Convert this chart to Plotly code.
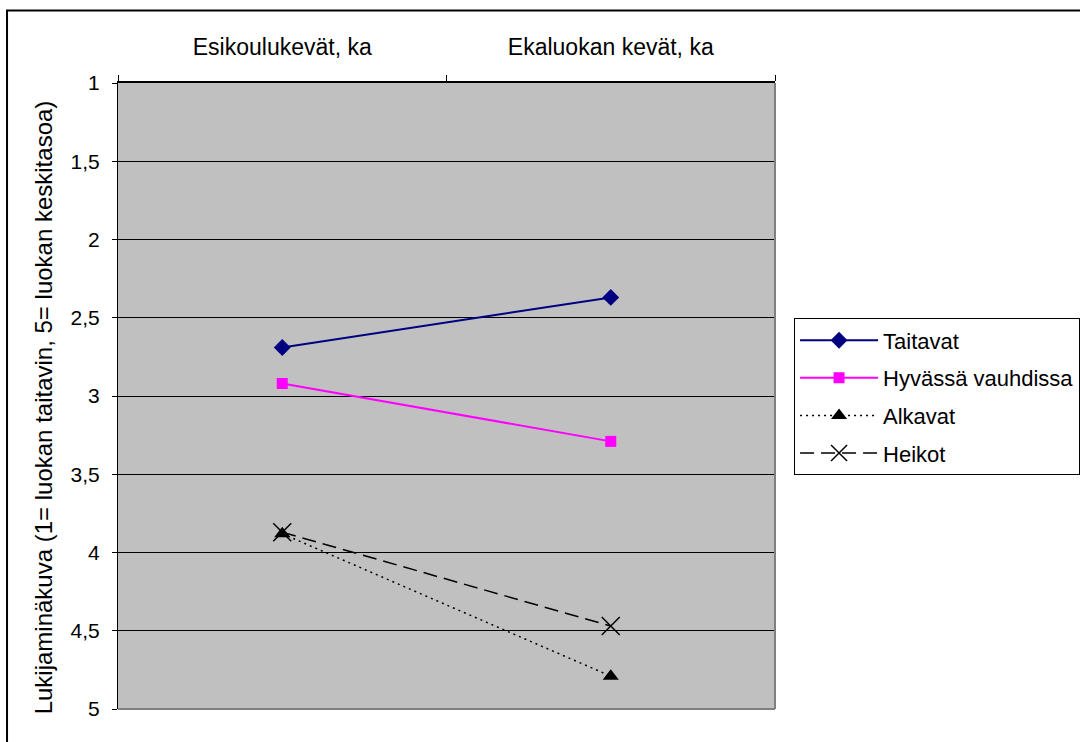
import plotly.graph_objects as go

# Survey points and group means (scale: 1 = best in class, 5 = class average)
categories = ["Esikoulukevät, ka", "Ekaluokan kevät, ka"]
taitavat = [2.69, 2.37]
hyvassa_vauhdissa = [2.92, 3.29]
alkavat = [3.88, 4.79]
heikot = [3.87, 4.47]

y_ticks = [1, 1.5, 2, 2.5, 3, 3.5, 4, 4.5, 5]
y_title = "Lukijaminäkuva (1= luokan taitavin, 5= luokan keskitasoa)"

FONT = "Liberation Sans, Arial, sans-serif"

series = [
    ("Taitavat", taitavat, dict(color="#000080", width=2, dash="solid"),
     dict(symbol="diamond", size=13, color="#000080")),
    ("Hyvässä vauhdissa", hyvassa_vauhdissa, dict(color="#FF00FF", width=2, dash="solid"),
     dict(symbol="square", size=11, color="#FF00FF")),
    ("Alkavat", alkavat, dict(color="#000000", width=1.5, dash="2px,4px"),
     dict(symbol="triangle-up", size=14, color="#000000")),
    ("Heikot", heikot, dict(color="#000000", width=1.5, dash="14px,7px"),
     dict(symbol="x-thin-open", size=18, color="#000000",
          line=dict(color="#000000", width=1.5))),
]

fig = go.Figure()
for name, values, line, marker in series:
    fig.add_trace(go.Scatter(
        x=categories, y=values, name=name, mode="lines+markers",
        line=line, marker=marker, legendgroup=name,
    ))

fig.update_layout(
    width=1080, height=742,
    margin=dict(l=118, r=305, t=83, b=33, autoexpand=False),
    paper_bgcolor="white",
    plot_bgcolor="#C0C0C0",
    separators=", ",
    font=dict(family=FONT, size=21, color="black"),
    showlegend=True,
    legend=dict(
        x=1.029, y=0.624, xanchor="left", yanchor="top",
        bordercolor="black", borderwidth=1, bgcolor="white",
        font=dict(family=FONT, size=22, color="black"),
        traceorder="grouped", tracegroupgap=6, itemwidth=78,
    ),
    xaxis=dict(
        type="category", categoryorder="array", categoryarray=categories,
        side="top", range=[-0.5, 1.5],
        showgrid=False, zeroline=False,
        showline=True, linecolor="black", linewidth=2,
        ticks="outside", tickson="boundaries", ticklen=6, tickcolor="black", tickwidth=1,
        tickfont=dict(family=FONT, size=23, color="black"),
        ticklabelstandoff=17,
    ),
    yaxis=dict(
        range=[5, 1], tickvals=y_ticks,
        showgrid=True, gridcolor="black", gridwidth=1,
        zeroline=False,
        showline=True, linecolor="black", linewidth=1,
        ticks="outside", ticklen=5, tickcolor="black", tickwidth=1,
        tickfont=dict(family=FONT, size=21, color="black"),
        ticklabelstandoff=8,
    ),
)

# Plot-area frame: grey right and bottom edges
fig.add_shape(type="line", xref="paper", yref="paper", x0=1, x1=1, y0=0, y1=1,
              line=dict(color="#808080", width=2))
fig.add_shape(type="line", xref="paper", yref="paper", x0=0, x1=1, y0=0, y1=0,
              line=dict(color="#808080", width=2))

# Outer chart frame
fig.add_shape(type="rect", xref="paper", yref="paper",
              x0=-0.1689, x1=1.6, y0=-0.2, y1=1.1158,
              line=dict(color="black", width=2), fillcolor="rgba(0,0,0,0)",
              layer="below")

# Rotated axis title
fig.add_annotation(
    text=y_title, xref="paper", yref="paper",
    x=-0.114, y=0.482, xanchor="center", yanchor="middle",
    textangle=-90, showarrow=False,
    font=dict(family=FONT, size=24, color="black"),
)

fig.write_html("out.html")
